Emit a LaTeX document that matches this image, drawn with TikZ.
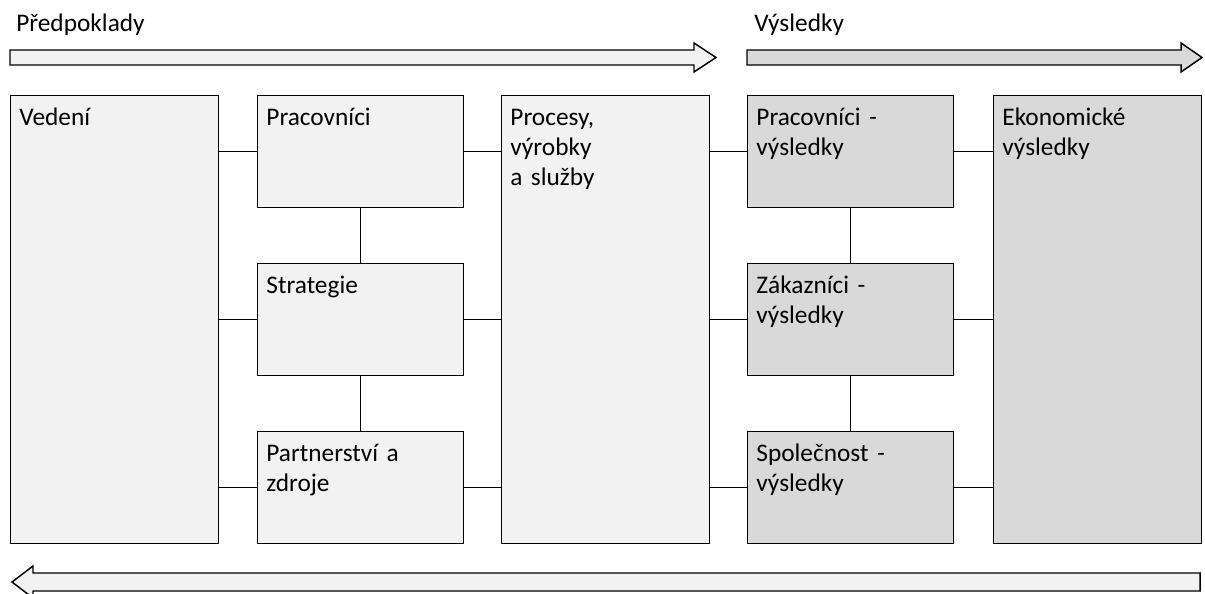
\documentclass[tikz,border=0pt]{standalone}
\usepackage{fontspec}
\setmainfont{Carlito}
\usepackage{tikz}
\usetikzlibrary{positioning,calc}

\definecolor{boxlight}{HTML}{F2F2F2}
\definecolor{boxdark}{HTML}{D9D9D9}

\begin{document}
\begin{tikzpicture}[
    x=0.75pt, y=-0.75pt,
    font=\fontsize{19}{22.5}\selectfont,
    field/.style={draw, line width=1.1pt, fill=boxlight, anchor=north west, align=left, inner xsep=6.5pt, inner ysep=0pt, text height=22.5pt},
    smallfield/.style={field, text width=141.5pt, text depth=61.5pt},
    tallfield/.style={field, text width=143pt, text depth=313.5pt},
    result/.style={fill=boxdark},
    link/.style={line width=0.75pt},
    bigarrow/.style={draw, line width=1.1pt, line join=miter}
]
\useasboundingbox (0,0) rectangle (1205,593);

% top labels
\node[anchor=base west, inner sep=0pt] (pred) at (16,31) {Předpoklady};
\node[anchor=base west, inner sep=0pt] (vysl) at (754,31) {Výsledky};

% arrows
\draw[bigarrow, fill=boxlight] (10,50) -- (694,50) -- (694,43) -- (716,57.5) -- (694,72) -- (694,65) -- (10,65) -- cycle;
\draw[bigarrow, fill=boxdark] (747,50) -- (1181,50) -- (1181,43) -- (1202,57.5) -- (1181,72) -- (1181,65) -- (747,65) -- cycle;
\draw[bigarrow, fill=boxlight] (1200,573) -- (33,573) -- (33,566) -- (12,582) -- (33,598) -- (33,591) -- (1200,591) -- cycle;

% boxes
\node[tallfield] (ved) at (10,95) {Vedení};
\node[smallfield] (prac) at (257,95) {Pracovníci};
\node[smallfield] (strat) at (257,263) {Strategie};
\node[smallfield] (part) at (257,431) {Partnerství a\\zdroje};
\node[tallfield] (proc) at (501,95) {Procesy,\\výrobky\\a služby};
\node[smallfield, result] (pracv) at (747,95) {Pracovníci -\\výsledky};
\node[smallfield, result] (zak) at (747,263) {Zákazníci -\\výsledky};
\node[smallfield, result] (spol) at (747,431) {Společnost -\\výsledky};
\node[tallfield, result] (eko) at (993,95) {Ekonomické\\výsledky};

% links
\draw[link] (ved.east |- prac.west) -- (prac.west);
\draw[link] (ved.east |- strat.west) -- (strat.west);
\draw[link] (ved.east |- part.west) -- (part.west);
\draw[link] (prac.east) -- (proc.west |- prac.east);
\draw[link] (strat.east) -- (proc.west |- strat.east);
\draw[link] (part.east) -- (proc.west |- part.east);
\draw[link] (proc.east |- pracv.west) -- (pracv.west);
\draw[link] (proc.east |- zak.west) -- (zak.west);
\draw[link] (proc.east |- spol.west) -- (spol.west);
\draw[link] (pracv.east) -- (eko.west |- pracv.east);
\draw[link] (zak.east) -- (eko.west |- zak.east);
\draw[link] (spol.east) -- (eko.west |- spol.east);
\draw[link] (prac.south) -- (strat.north);
\draw[link] (strat.south) -- (part.north);
\draw[link] (pracv.south) -- (zak.north);
\draw[link] (zak.south) -- (spol.north);
\end{tikzpicture}
\end{document}
